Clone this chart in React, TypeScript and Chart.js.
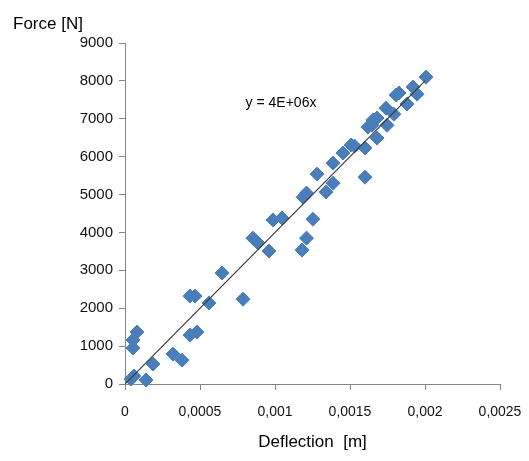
import React, { useEffect, useRef } from 'react';
import { Chart, registerables } from 'chart.js';

Chart.register(...registerables);

// Deflection [m]
const deflection = [
  0.00004, 0.00006, 0.00014, 0.000187, 0.00032, 0.00038, 0.000053, 0.000053, 0.00008,
  0.000433, 0.00048, 0.000433, 0.000467, 0.00056, 0.000787, 0.000647, 0.000853, 0.000887,
  0.00096, 0.000987, 0.001047, 0.00118, 0.00121, 0.001253, 0.001187, 0.00121, 0.00128,
  0.00134, 0.001387, 0.001387, 0.001453, 0.001507, 0.00153, 0.0016, 0.0016, 0.00162,
  0.001647, 0.001653, 0.00168, 0.00168, 0.001747, 0.00174, 0.001793, 0.001807, 0.001827,
  0.00188, 0.00192, 0.001947, 0.002007,
];
// Force [N]
const force = [
  130, 210, 105, 528, 790, 630, 950, 1160, 1370,
  1290, 1370, 2320, 2320, 2140, 2240, 2930, 3850, 3720,
  3510, 4330, 4380, 3535, 3850, 4350, 4930, 5040, 5540,
  5070, 5300, 5830, 6095, 6306, 6280, 6230, 5460, 6780,
  6830, 6970, 7020, 6490, 6830, 7280, 7120, 7625, 7680,
  7390, 7840, 7650, 8100,
];

const xTicks = [0, 0.0005, 0.001, 0.0015, 0.002, 0.0025];
const xTickLabels = ['0', '0,0005', '0,001', '0,0015', '0,002', '0,0025'];
const yTicks = [0, 1000, 2000, 3000, 4000, 5000, 6000, 7000, 8000, 9000];

const trendSlope = 4e6;
const trendX = [0, 0.002];
const equationLabel = 'y = 4E+06x';
const equationAt = { x: 0.00104, y: 7400 };
const yTitle = 'Force [N]';
const xTitle = 'Deflection  [m]';

const FONT = '"Liberation Sans", Arial, sans-serif';
const AXIS_COLOR = '#868686';
const POINT_COLOR = '#4a7ebb';

export default function App() {
  const ref = useRef<HTMLCanvasElement | null>(null);

  useEffect(() => {
    if (!ref.current) return;
    const textPlugin = {
      id: 'extraTexts',
      afterDraw(chart: any) {
        const ctx = chart.ctx;
        ctx.save();
        ctx.fillStyle = '#000';
        ctx.font = `17px ${FONT}`;
        ctx.textAlign = 'left';
        ctx.textBaseline = 'middle';
        ctx.fillText(yTitle, 13, 24);
        const xs = chart.scales.x;
        const ys = chart.scales.y;
        ctx.font = `14px ${FONT}`;
        ctx.textAlign = 'center';
        ctx.fillText(equationLabel, xs.getPixelForValue(equationAt.x), ys.getPixelForValue(equationAt.y));
        ctx.restore();
      },
    };

    const chart = new Chart(ref.current, {
      type: 'scatter',
      data: {
        datasets: [
          {
            type: 'line',
            label: 'trend',
            data: trendX.map((x) => ({ x, y: trendSlope * x })),
            borderColor: '#3a3a3a',
            borderWidth: 1.2,
            pointRadius: 0,
            showLine: true,
            tension: 0,
            order: 0,
          } as any,
          {
            label: 'Force',
            data: deflection.map((x, i) => ({ x, y: force[i] })),
            pointStyle: 'rectRot',
            pointRadius: 7,
            backgroundColor: POINT_COLOR,
            borderColor: POINT_COLOR,
            borderWidth: 1,
            clip: false,
            order: 1,
          } as any,
        ],
      },
      options: {
        animation: false,
        responsive: false,
        events: [],
        layout: { padding: { top: 43, right: 29, left: 0, bottom: 0 } },
        plugins: {
          legend: { display: false },
          tooltip: { enabled: false },
          title: { display: false },
        },
        scales: {
          x: {
            type: 'linear',
            min: 0,
            max: 0.0025,
            afterBuildTicks: (scale: any) => {
              scale.ticks = xTicks.map((v) => ({ value: v }));
            },
            afterFit: (scale: any) => {
              scale.height = 77;
              scale.paddingLeft = 0;
              scale.paddingRight = 0;
            },
            ticks: {
              autoSkip: false,
              maxRotation: 0,
              padding: 14,
              color: '#111',
              font: { family: FONT, size: 14 },
              callback: (_v: any, i: number) => xTickLabels[i],
            },
            grid: {
              drawOnChartArea: false,
              drawTicks: true,
              tickLength: 6,
              color: AXIS_COLOR,
            },
            border: { display: true, color: AXIS_COLOR, width: 1 },
            title: {
              display: true,
              text: xTitle,
              color: '#000',
              font: { family: FONT, size: 17 },
              padding: { top: 0, bottom: 8 },
            },
          },
          y: {
            type: 'linear',
            min: 0,
            max: 9000,
            afterBuildTicks: (scale: any) => {
              scale.ticks = yTicks.map((v) => ({ value: v }));
            },
            afterFit: (scale: any) => {
              scale.width = 125;
            },
            ticks: {
              autoSkip: false,
              padding: 6,
              color: '#111',
              font: { family: FONT, size: 15 },
              callback: (v: any) => String(v),
            },
            grid: {
              drawOnChartArea: false,
              drawTicks: true,
              tickLength: 6,
              color: AXIS_COLOR,
            },
            border: { display: true, color: AXIS_COLOR, width: 1 },
          },
        },
      },
      plugins: [textPlugin],
    });
    return () => chart.destroy();
  }, []);

  return (
    <div style={{ position: 'absolute', left: 0, top: 0, width: 529, height: 461, background: '#fff' }}>
      <canvas ref={ref} width={529} height={461} style={{ display: 'block' }} />
    </div>
  );
}
